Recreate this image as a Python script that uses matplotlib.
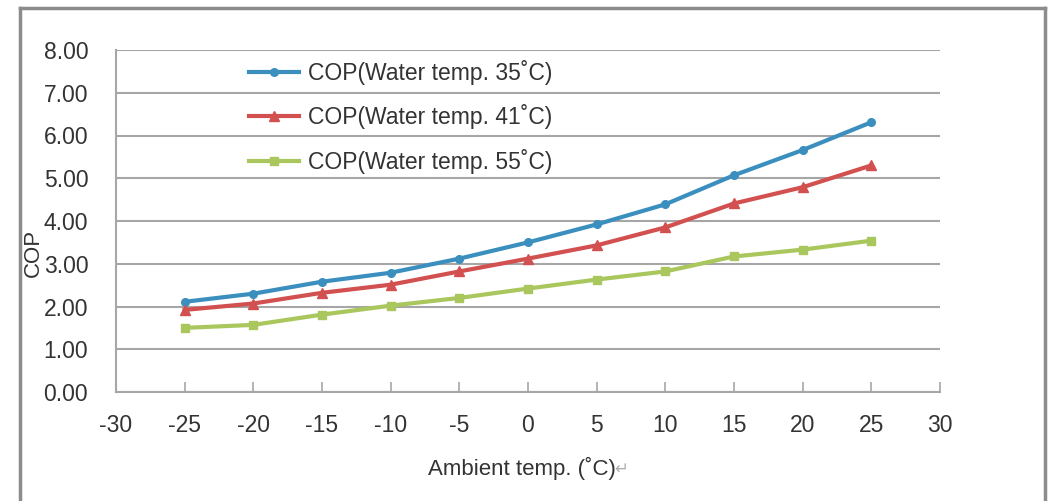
import matplotlib
matplotlib.use("Agg")
import matplotlib.pyplot as plt
from matplotlib.lines import Line2D

# ambient temperature (x) and COP for each water temperature
ambient = [-25, -20, -15, -10, -5, 0, 5, 10, 15, 20, 25]
cop_35 = [2.11, 2.30, 2.58, 2.79, 3.12, 3.50, 3.92, 4.39, 5.07, 5.66, 6.31]
cop_41 = [1.92, 2.07, 2.32, 2.51, 2.82, 3.12, 3.43, 3.85, 4.41, 4.79, 5.30]
cop_55 = [1.50, 1.57, 1.81, 2.02, 2.20, 2.42, 2.63, 2.82, 3.17, 3.33, 3.54]

labels = ["COP(Water temp. 35˚C)", "COP(Water temp. 41˚C)", "COP(Water temp. 55˚C)"]
x_ticks = [-30, -25, -20, -15, -10, -5, 0, 5, 10, 15, 20, 25, 30]
y_ticks = [0, 1, 2, 3, 4, 5, 6, 7, 8]

plt.rcParams['font.family'] = ['Liberation Sans', 'DejaVu Sans']
plt.rcParams['axes.unicode_minus'] = False
text_col = '#333333'
grid_col = '#a6a6a6'

fig = plt.figure(figsize=(10.5, 5.01), dpi=100)
ax = fig.add_axes([116/1050, 1 - 392/501, 824/1050, 342/501])

ax.plot(ambient, cop_35, color='#3a8fbf', lw=3, marker='o', ms=5.5, label=labels[0])
ax.plot(ambient, cop_41, color='#d2504f', lw=3, marker='^', ms=6.5, label=labels[1])
ax.plot(ambient, cop_55, color='#a9c75c', lw=3, marker='s', ms=5.5, label=labels[2])

ax.set_xlim(-30, 30)
ax.set_ylim(0, 8)
ax.set_xticks(x_ticks)
ax.set_yticks(y_ticks)
ax.set_yticklabels([f"{v:.2f}" for v in y_ticks])
ax.yaxis.grid(True, color=grid_col, lw=1.5)
ax.set_axisbelow(True)

for s in ['top', 'right']:
    ax.spines[s].set_visible(False)
for s in ['left', 'bottom']:
    ax.spines[s].set_color(grid_col)
    ax.spines[s].set_linewidth(1.5)

ax.tick_params(axis='x', direction='in', length=7, color=grid_col, width=1.2,
               pad=16, labelsize=16.5, labelcolor=text_col)
ax.tick_params(axis='y', length=0, pad=20, labelsize=16.5, labelcolor=text_col)

ax.set_ylabel("COP", fontsize=16, color=text_col)
ax.yaxis.set_label_coords(-0.088, 0.406)
ax.set_xlabel("Ambient temp. (˚C)", fontsize=16, color=text_col)
ax.xaxis.set_label_coords(0.493, -0.19)
ax.text(0.605, -0.225, "↵", transform=ax.transAxes, fontsize=12,
        color='#b0b0b0', va='center', family='DejaVu Sans')

ax.legend(loc='upper left', bbox_to_anchor=(0.136, 1.032), frameon=False,
          fontsize=16.5, handlelength=2.2, labelspacing=0.85,
          handletextpad=0.4, labelcolor=text_col)

# outer chart frame
frame = dict(color='#8c8c8c', lw=2.5, transform=fig.transFigure)
fig.add_artist(Line2D([20/1050, 20/1050], [0, 1 - 8/501], **frame))
fig.add_artist(Line2D([20/1050, 1045/1050], [1 - 8/501, 1 - 8/501], **frame))
fig.add_artist(Line2D([1045/1050, 1045/1050], [0, 1 - 8/501], **frame))

fig.savefig("out.png", dpi=100)
